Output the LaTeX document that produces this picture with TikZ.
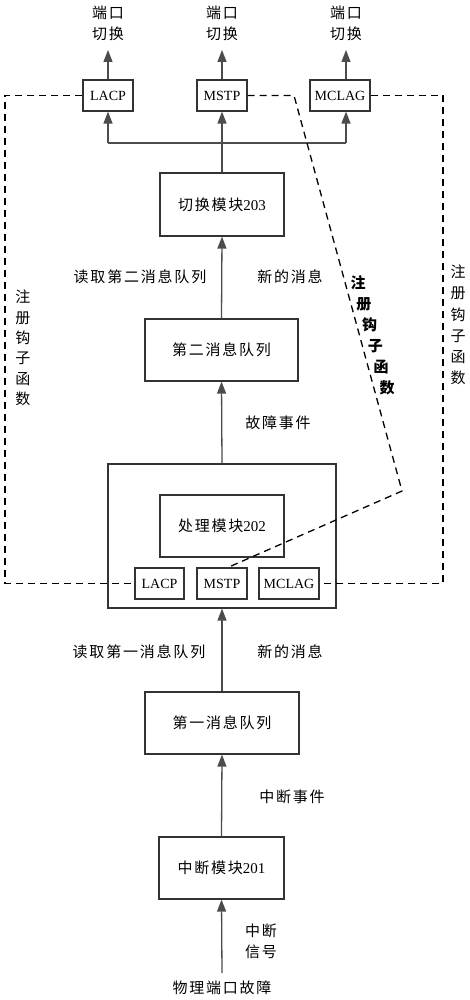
\documentclass[tikz,border=0pt]{standalone}
\usepackage{fontspec}
\setmainfont{Liberation Serif}
\newfontfamily\cjk[LetterSpace=12]{Noto Sans CJK SC}
\usetikzlibrary{arrows.meta,calc}
\begin{document}
\begin{tikzpicture}[x=1pt,y=-1pt,
  box/.style={draw=black!80,line width=1.2pt,inner sep=0pt,font=\fontsize{15}{17}\selectfont},
  sbox/.style={draw=black!80,line width=1.2pt,inner sep=0pt,minimum height=31pt,font=\fontsize{14}{17}\selectfont},
  lbl/.style={font=\cjk\fontsize{15}{21}\selectfont,align=center,inner sep=0pt},
  arr/.style={draw=black!70,line width=1.3pt,-{Triangle[length=12pt,width=9pt]}},
  ln/.style={draw=black!70,line width=1.3pt},
  dsh/.style={draw=black,line width=1.3pt,dash pattern=on 7pt off 5pt}]
\useasboundingbox (0,0) rectangle (470,1000);
% top boxes
\node[sbox,minimum width=50pt] (tL) at (108,95.5) {LACP};
\node[sbox,minimum width=50pt] (tM) at (222,95.5) {MSTP};
\node[sbox,minimum width=60pt] (tC) at (340,95.5) {MCLAG};
% top labels
\node[lbl] (oL) at (108,23) {端口\\切换};
\node[lbl] (oM) at (222,23) {端口\\切换};
\node[lbl] (oC) at (346,23) {端口\\切换};
\coordinate (aL) at (108,50);
\coordinate (aM) at (222,50);
\coordinate (aC) at (346,50);
\draw[arr] (tL.north) -- (aL);
\draw[arr] (tM.north) -- (aM);
\draw[arr] (tC.north -| aC) -- (aC);
% main boxes
\node[box,minimum width=124pt,minimum height=63pt] (swm) at (222,204.5) {{\cjk 切换模块}203};
\node[box,minimum width=153pt,minimum height=62pt] (q2) at (221.5,350) {\cjk 第二消息队列};
\node[box,minimum width=228pt,minimum height=144pt] (outer) at (222,536) {};
\node[box,minimum width=124pt,minimum height=62pt] (proc) at (222,526) {{\cjk 处理模块}202};
\node[sbox,minimum width=49pt] (iL) at (159.5,583.5) {LACP};
\node[sbox,minimum width=50pt] (iM) at (222,583.5) {MSTP};
\node[sbox,minimum width=60pt] (iC) at (289,583.5) {MCLAG};
\node[box,minimum width=154pt,minimum height=62pt] (q1) at (222,723) {\cjk 第一消息队列};
\node[box,minimum width=125pt,minimum height=62pt] (intm) at (221.5,868) {{\cjk 中断模块}201};
\node[lbl] (phys) at (222,988) {物理端口故障};
\coordinate (src) at (222,973);
% distribution
\coordinate (hL) at (108,143);
\coordinate (hM) at (222,143);
\coordinate (hC) at (346,143);
\draw[ln] (swm.north) -- (hM);
\draw[ln] (hL) -- (hC);
\draw[arr] (hL) -- (tL.south);
\draw[arr] (hM) -- (tM.south);
\draw[arr] (hC) -- (hC |- tC.south);
% main arrows
\draw[arr] (q2.north) -- (swm.south);
\draw[arr] (outer.north) -- (q2.south);
\draw[arr] (q1.north) -- (outer.south);
\draw[arr] (intm.north) -- (q1.south);
\draw[arr] (src) -- (intm.south);
% labels
\node[lbl] (r2) at (140,277) {读取第二消息队列};
\node[lbl] (n2) at (290,277) {新的消息};
\node[lbl] (ff) at (278,423) {故障事件};
\node[lbl] (r1) at (139,652) {读取第一消息队列};
\node[lbl] (n1) at (290,652) {新的消息};
\node[lbl] (ie) at (292,797) {中断事件};
\node[lbl] (is) at (261,941) {中断\\信号};
% dashed hooks
\coordinate (dL1) at (5,95.5);
\coordinate (dL2) at (5,583.5);
\coordinate (dR1) at (443,95.5);
\coordinate (dR2) at (443,583.5);
\coordinate (dM1) at (294,95.5);
\coordinate (dM2) at (402,491);
\coordinate (dM3) at ($(iM.north)+(6,0)$);
\draw[dsh] (tL.west) -- (dL1) -- (dL2) -- (iL.west);
\draw[dsh] (tC.east) -- (dR1) -- (dR2) -- (iC.east);
\draw[dsh] (tM.east) -- (dM1) -- (dM2) -- (dM3);
% vertical texts
\node[lbl,font=\cjk\fontsize{15}{20.3}\selectfont] (vl) at (23,348) {注\\册\\钩\\子\\函\\数};
\node[lbl,font=\cjk\fontsize{15}{21.2}\selectfont] (vr) at (458,325) {注\\册\\钩\\子\\函\\数};
\foreach \c [count=\i from 0] in {注,册,钩,子,函,数}
  \node[lbl,font=\cjk\bfseries\fontsize{15}{16}\selectfont] (dg\i) at (358+5.8*\i,283+21*\i) {\c};
\end{tikzpicture}
\end{document}
